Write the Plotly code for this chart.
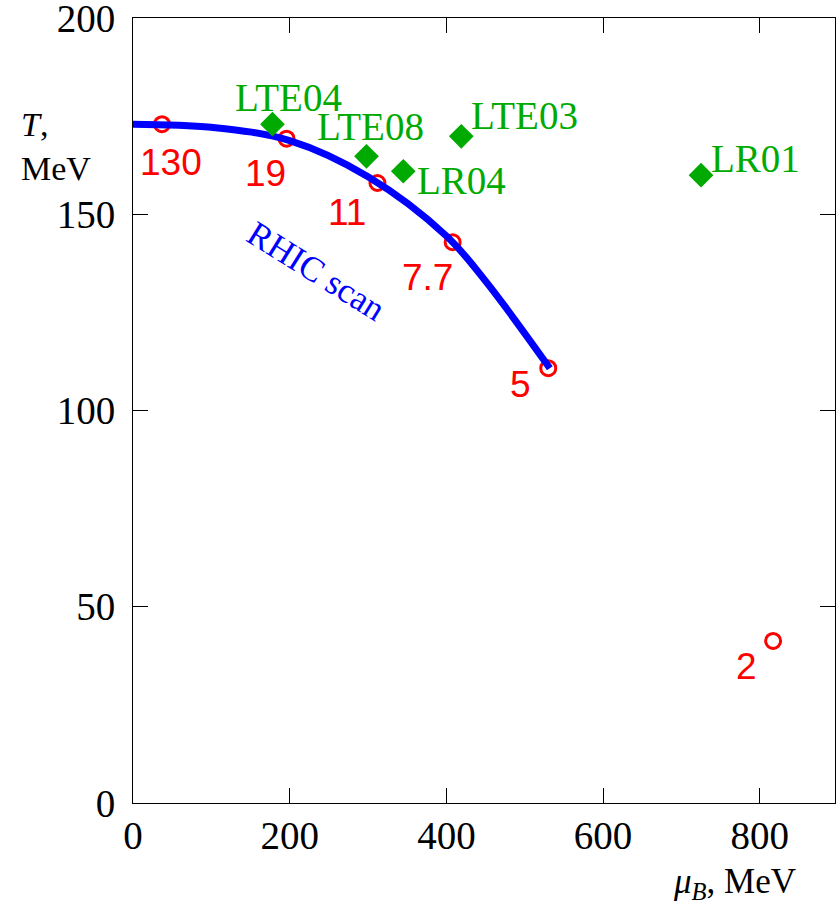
import plotly.graph_objects as go

# RHIC beam-energy scan points (sqrt(s) labels)
rhic_labels = ["130", "19", "11", "7.7", "5", "2"]
rhic_mu = [37, 196, 312, 408, 530, 817]
rhic_T = [173.0, 169.3, 158.0, 142.9, 110.8, 41.3]

# Lattice / other estimates
lat_labels = ["LTE04", "LTE08", "LR04", "LTE03", "LR01"]
lat_mu = [178, 298, 345, 419, 725]
lat_T = [173.0, 164.8, 161.0, 169.9, 160.0]

# Freeze-out curve ("RHIC scan")
curve_mu = [0, 100, 200, 300, 400, 450, 532]
curve_T = [173.0, 172.2, 168.8, 159.6, 144.5, 133.0, 110.8]

x_ticks = [0, 200, 400, 600, 800]
y_ticks = [0, 50, 100, 150, 200]

RED = "#FF0000"
GREEN = "#00AA00"
BLUE = "#0000FF"

fig = go.Figure()

fig.add_trace(go.Scatter(
    x=rhic_mu, y=rhic_T, mode="markers",
    marker=dict(symbol="circle-open", size=15, color=RED, line=dict(width=3, color=RED)),
    hoverinfo="skip", showlegend=False, cliponaxis=False))

fig.add_trace(go.Scatter(
    x=curve_mu, y=curve_T, mode="lines",
    line=dict(color=BLUE, width=7, shape="spline"),
    hoverinfo="skip", showlegend=False))

fig.add_trace(go.Scatter(
    x=lat_mu, y=lat_T, mode="markers",
    marker=dict(symbol="diamond", size=19, color=GREEN, line=dict(width=0)),
    hoverinfo="skip", showlegend=False, cliponaxis=False))

# label offsets in pixels (style)
rhic_off = [(9, -38), (-21, -35), (-30, -29), (-25, -35), (-28, -16), (-27, -26)]
lat_off = [(16, 27), (4, 30), (58, -9), (63, 21), (54, 17)]

annotations = []
for lab, x, y, (dx, dy) in zip(rhic_labels, rhic_mu, rhic_T, rhic_off):
    annotations.append(dict(x=x, y=y, text=lab, showarrow=False, xshift=dx, yshift=dy,
                            font=dict(family="Liberation Sans", size=37, color=RED)))
for lab, x, y, (dx, dy) in zip(lat_labels, lat_mu, lat_T, lat_off):
    annotations.append(dict(x=x, y=y, text=lab, showarrow=False, xshift=dx, yshift=dy,
                            font=dict(family="Liberation Serif", size=39, color=GREEN)))

annotations.append(dict(x=234.5, y=135.5, text="RHIC scan", showarrow=False, textangle=32,
                        font=dict(family="Liberation Serif", size=35, color=BLUE)))
annotations.append(dict(xref="paper", yref="paper", x=-0.162, y=0.836, xanchor="left", yanchor="middle",
                        align="left", text="<i>T</i>,<br>MeV", showarrow=False,
                        font=dict(family="Liberation Serif", size=34, color="black")))
annotations.append(dict(xref="paper", yref="paper", x=0.947, y=-0.103, xanchor="right", yanchor="middle",
                        text="<i>μ</i><sub><i>B</i></sub>, MeV", showarrow=False,
                        font=dict(family="Liberation Serif", size=35, color="black")))

fig.update_layout(
    width=836, height=904,
    margin=dict(l=133, r=1, t=18, b=101, autoexpand=False),
    paper_bgcolor="white", plot_bgcolor="white",
    annotations=annotations,
    xaxis=dict(range=[0, 896], tickvals=x_ticks, ticks="inside", ticklen=15, tickcolor="black",
               showline=True, linecolor="black", linewidth=1, mirror="ticks", showgrid=False,
               zeroline=False, ticklabelstandoff=-2, automargin=False, ticklabeloverflow="allow",
               tickfont=dict(family="Liberation Serif", size=39, color="black")),
    yaxis=dict(range=[0, 200.05], tickvals=y_ticks, ticks="inside", ticklen=15, tickcolor="black",
               showline=True, linecolor="black", linewidth=1, mirror="ticks", showgrid=False,
               zeroline=False, ticklabelstandoff=9, automargin=False, ticklabeloverflow="allow",
               tickfont=dict(family="Liberation Serif", size=39, color="black")),
)

fig.write_html("out.html", config={"displayModeBar": False},
               post_script="document.body.style.margin='0';document.body.style.overflow='hidden';")
